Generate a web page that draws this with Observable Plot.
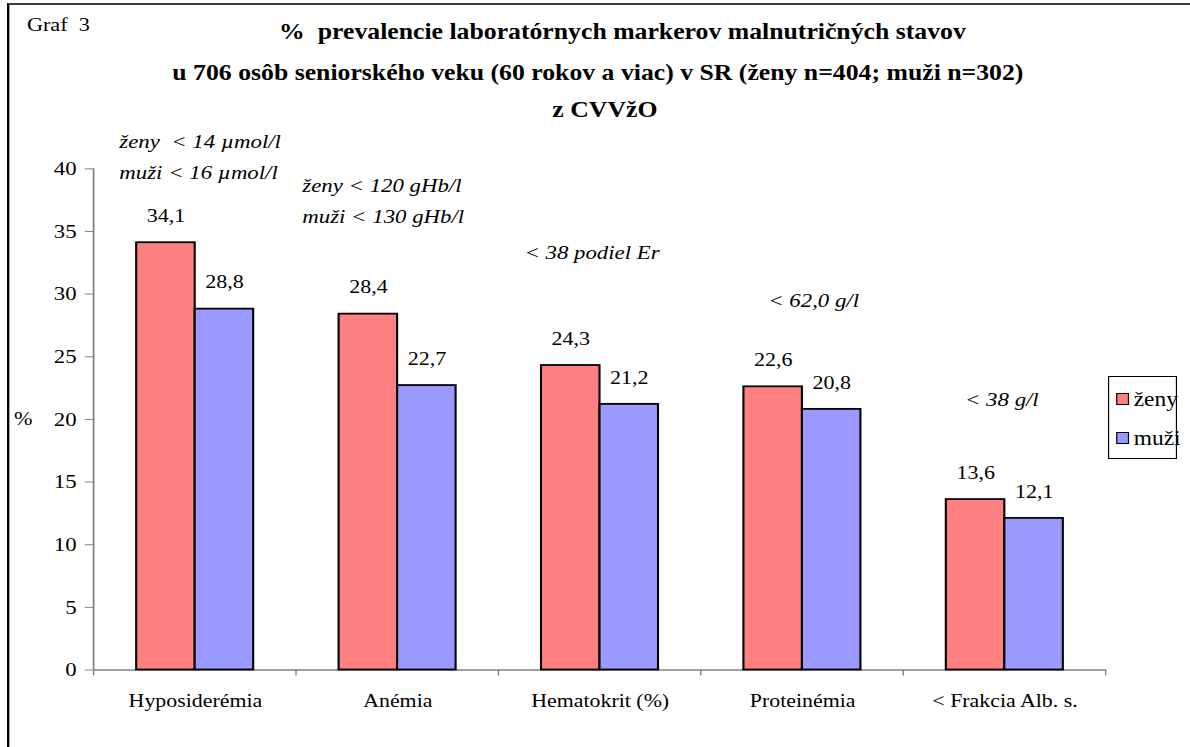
<!DOCTYPE html>
<html lang="sk">
<head>
<meta charset="utf-8">
<script src="https://cdn.jsdelivr.net/npm/d3@7"></script>
<script src="https://cdn.jsdelivr.net/npm/@observablehq/plot@0.6"></script>
<style>
  html, body { margin: 0; padding: 0; background: #fff; overflow: hidden; }
  /* the whole sheet is set in a slightly widened (stretched) Times face */
  #page {
    position: relative; width: 1017px; height: 747px;
    transform: scaleX(1.17); transform-origin: 0 0;
    font-family: "Liberation Serif", "Times New Roman", serif; color: #000;
  }
  #frame {
    position: absolute; left: 6px; top: 3px; width: 1100px; height: 800px;
    border-left: 2px solid #000; border-top: 2px solid #3a3a3a;
  }
  .t { position: absolute; white-space: nowrap; line-height: 1; }
  .title { font-weight: bold; font-size: 23.5px; transform: translateX(-50%) scaleX(0.936); }
  #chart { position: absolute; left: 0; top: 0; }
  #legend {
    position: absolute; left: 947px; top: 376px; width: 59px; height: 83px;
    box-sizing: border-box; border: 1px solid #000; background: #fff;
  }
  #legend .sw {
    position: absolute; left: 6px; width: 11px; height: 12px;
    box-sizing: border-box; border: 1px solid #000;
  }
  #legend .lab { position: absolute; left: 21px; font-size: 20px; line-height: 1; white-space: nowrap; }
</style>
</head>
<body>
<div id="page">
  <div id="frame"></div>
  <div class="t" style="left:23px; top:15px; font-size:19px;">Graf&nbsp; 3</div>
  <div class="t title" style="left:532px; top:20px;">%&nbsp; prevalencie laboratórnych markerov malnutričných stavov</div>
  <div class="t title" style="left:511px; top:61px;">u 706 osôb seniorského veku (60 rokov a viac) v SR (ženy n=404; muži n=302)</div>
  <div class="t title" style="left:517px; top:98px;">z CVVžO</div>
  <div class="t" style="left:12px; top:409px; font-size:19px;">%</div>
  <div id="chart"></div>
  <div id="legend"></div>
</div>
<script>
// Prevalence (%) of laboratory markers of malnutrition, seniors 60+
const categories = ["Hyposiderémia", "Anémia", "Hematokrit (%)", "Proteinémia", "< Frakcia Alb. s."];
const series = ["ženy", "muži"];
const zeny = [34.1, 28.4, 24.3, 22.6, 13.6];
const muzi = [28.8, 22.7, 21.2, 20.8, 12.1];
const thresholds = [
  "ženy\u00a0 < 14 µmol/l\nmuži < 16 µmol/l",
  "ženy < 120 gHb/l\nmuži < 130 gHb/l",
  "< 38 podiel Er",
  "< 62,0 g/l",
  "< 38 g/l"
];
const yTicks = [0, 5, 10, 15, 20, 25, 30, 35, 40];
const colors = ["#ff8080", "#9999ff"];

const rows = categories.flatMap((c, i) => [
  {category: c, sex: series[0], value: zeny[i]},
  {category: c, sex: series[1], value: muzi[i]}
]);
const notes = categories.map((c, i) => ({category: c, note: thresholds[i]}));

// height (in %) and horizontal offset of each threshold note within its group
const notePlace = [
  {y: 41.2, dx: -65},
  {y: 37.7, dx: -81.6},
  {y: 33.6, dx: -64.8},
  {y: 29.75, dx: -29.4},
  {y: 21.85, dx: -34.2}
];

const fmt = v => v.toFixed(1).replace(".", ",");

const chart = Plot.plot({
  width: 1017,
  height: 747,
  marginTop: 168.3,
  marginBottom: 77.5,
  marginLeft: 78.6,
  marginRight: 70,
  style: {
    fontFamily: '"Liberation Serif", "Times New Roman", serif',
    fontSize: "19px",
    color: "#000",
    background: "transparent",
    overflow: "visible"
  },
  fx: {domain: categories, padding: 0, label: null},
  x: {domain: series, paddingInner: 0, paddingOuter: 0.72, axis: null},
  y: {domain: [0, 40], label: null},
  color: {domain: series, range: colors},
  marks: [
    Plot.axisY({ticks: yTicks, tickSize: 7.5, tickPadding: 7.5, stroke: "#808080", fill: "#000", fontSize: 19.5, label: null}),
    Plot.axisFx({anchor: "bottom", tickSize: 0, tickPadding: 24, fontSize: 18.7, fill: "#000", label: null}),
    Plot.ruleY([0], {stroke: "#808080", strokeWidth: 1.5}),
    Plot.barY(rows, {fx: "category", x: "sex", y: "value", fill: "sex", stroke: "#000", strokeWidth: 1.8}),
    Plot.text(rows, {fx: "category", x: "sex", y: "value", text: d => fmt(d.value), dy: -26.7, fontSize: 18.8, fill: "#000"}),
    ...notes.map((n, i) => Plot.text([n], {
      fx: "category",
      y: () => notePlace[i].y,
      text: "note",
      textAnchor: "start",
      dx: notePlace[i].dx,
      lineHeight: 1.6,
      fontStyle: "italic",
      fontSize: 19.5,
      fill: "#000"
    }))
  ]
});

// value axis line and the category boundary ticks on the baseline
const fxs = chart.scale("fx");
const ys = chart.scale("y");
const svg = d3.select(chart);
const yBase = ys.apply(0), yTop = ys.apply(40);
const xLeft = fxs.apply(categories[0]);
svg.append("line")
  .attr("x1", xLeft).attr("x2", xLeft).attr("y1", yTop).attr("y2", yBase)
  .attr("stroke", "#808080").attr("stroke-width", 1.5);
const edges = categories.map(c => fxs.apply(c)).concat(fxs.apply(categories[categories.length - 1]) + fxs.bandwidth);
svg.append("g").selectAll("line").data(edges).join("line")
  .attr("x1", d => d).attr("x2", d => d)
  .attr("y1", yBase).attr("y2", yBase + 6)
  .attr("stroke", "#808080").attr("stroke-width", 1.2);

document.getElementById("chart").append(chart);

// legend
const legend = d3.select("#legend");
const legTop = [16, 55];
series.forEach((s, i) => {
  legend.append("div").attr("class", "sw").style("top", legTop[i] + "px").style("background", colors[i]);
  legend.append("div").attr("class", "lab").style("top", (legTop[i] - 4.5) + "px").text(s);
});
</script>
</body>
</html>
